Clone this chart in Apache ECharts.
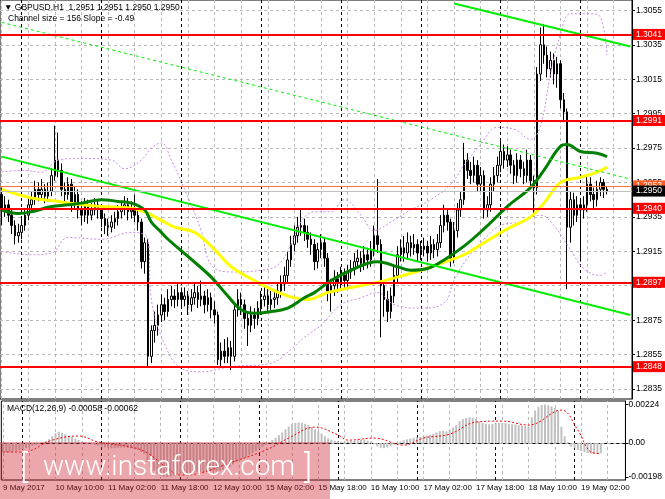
<!DOCTYPE html>
<html><head><meta charset="utf-8">
<script src="https://cdn.jsdelivr.net/npm/echarts@6/dist/echarts.min.js"></script>
<style>html,body{margin:0;padding:0;background:#fff;}#c{width:665px;height:499px;}</style>
</head><body><div id="c"></div>
<script>
// ---- data (GBPUSD H1, 9 May 18:00 .. 19 May 08:00) ----
const firstOpen = 1.2948;
const closes = [1.2939,1.2942,1.2936,1.2930,1.2924,1.2926,1.2930,1.2936,1.2942,1.2945,
1.2951,1.2948,1.2951,1.2947,1.2950,1.2959,1.2968,1.2962,1.2951,1.2948,
1.2954,1.2942,1.2948,1.2939,1.2936,1.2942,1.2936,1.2939,1.2942,1.2939,
1.2934,1.2930,1.2929,1.2932,1.2934,1.2938,1.2940,1.2942,1.2938,1.2939,
1.2936,1.2932,1.2909,1.2920,1.2854,1.2869,1.2872,1.2878,1.2884,1.2880,
1.2887,1.2889,1.2887,1.2891,1.2887,1.2889,1.2884,1.2888,1.2891,1.2887,
1.2889,1.2884,1.2888,1.2881,1.2878,1.2852,1.2857,1.2854,1.2859,1.2854,
1.2881,1.2887,1.2884,1.2876,1.2872,1.2878,1.2876,1.2882,1.2887,1.2889,
1.2884,1.2887,1.2888,1.2892,1.2896,1.2901,1.2910,1.2919,1.2924,1.2929,
1.2930,1.2926,1.2922,1.2919,1.2909,1.2916,1.2920,1.2911,1.2892,1.2895,
1.2899,1.2897,1.2901,1.2898,1.2903,1.2905,1.2909,1.2911,1.2908,1.2913,
1.2910,1.2916,1.2924,1.2919,1.2895,1.2887,1.2880,1.2889,1.2901,1.2913,
1.2917,1.2914,1.2920,1.2917,1.2919,1.2914,1.2916,1.2918,1.2914,1.2919,
1.2916,1.2920,1.2930,1.2936,1.2932,1.2911,1.2927,1.2939,1.2945,1.2968,
1.2962,1.2959,1.2965,1.2954,1.2959,1.2939,1.2942,1.2954,1.2959,1.2965,
1.2973,1.2968,1.2971,1.2965,1.2959,1.2968,1.2963,1.2959,1.2968,1.2956,
1.2952,1.3018,1.3035,1.3029,1.3021,1.3026,1.3018,1.3024,1.3003,1.2996,
1.2929,1.2945,1.2936,1.2942,1.2939,1.2942,1.2954,1.2948,1.2945,1.2951,
1.2955,1.2951,1.2950];
const highs = [1.2952,1.2947,1.2945,1.2939,1.2933,1.2931,1.2934,1.2940,1.2946,1.2950,
1.2956,1.2955,1.2957,1.2954,1.2955,1.2963,1.2988,1.2984,1.2966,1.2955,
1.2958,1.2957,1.2953,1.2951,1.2944,1.2946,1.2945,1.2943,1.2946,1.2945,
1.2942,1.2937,1.2934,1.2936,1.2938,1.2942,1.2944,1.2947,1.2946,1.2944,
1.2948,1.2940,1.2934,1.2923,1.2922,1.2872,1.2880,1.2884,1.2890,1.2888,
1.2893,1.2895,1.2893,1.2896,1.2894,1.2894,1.2892,1.2893,1.2897,1.2895,
1.2898,1.2892,1.2893,1.2891,1.2886,1.2880,1.2862,1.2864,1.2865,1.2863,
1.2885,1.2893,1.2891,1.2887,1.2880,1.2883,1.2882,1.2886,1.2892,1.2895,
1.2893,1.2892,1.2893,1.2897,1.2901,1.2906,1.2915,1.2924,1.2930,1.2935,
1.2940,1.2934,1.2930,1.2926,1.2922,1.2920,1.2925,1.2923,1.2914,1.2899,
1.2904,1.2903,1.2906,1.2905,1.2907,1.2910,1.2914,1.2916,1.2915,1.2918,
1.2917,1.2921,1.2930,1.2957,1.2922,1.2898,1.2892,1.2894,1.2906,1.2918,
1.2922,1.2924,1.2926,1.2924,1.2925,1.2922,1.2921,1.2923,1.2921,1.2924,
1.2922,1.2925,1.2936,1.2942,1.2940,1.2934,1.2932,1.2943,1.2950,1.2978,
1.2972,1.2967,1.2970,1.2968,1.2964,1.2962,1.2947,1.2958,1.2964,1.2970,
1.2980,1.2977,1.2976,1.2974,1.2968,1.2972,1.2971,1.2967,1.2974,1.2971,
1.2959,1.3022,1.3045,1.3047,1.3034,1.3031,1.3030,1.3028,1.3026,1.3007,
1.2998,1.2950,1.2949,1.2947,1.2945,1.2947,1.2959,1.2958,1.2952,1.2956,
1.2958,1.2957,1.2953];
const lows = [1.2930,1.2935,1.2932,1.2925,1.2919,1.2920,1.2922,1.2927,1.2933,1.2938,
1.2942,1.2944,1.2945,1.2943,1.2944,1.2947,1.2956,1.2958,1.2947,1.2944,
1.2945,1.2938,1.2939,1.2934,1.2930,1.2932,1.2931,1.2933,1.2936,1.2934,
1.2929,1.2925,1.2924,1.2926,1.2928,1.2930,1.2934,1.2936,1.2933,1.2934,
1.2932,1.2927,1.2905,1.2902,1.2848,1.2850,1.2862,1.2866,1.2874,1.2875,
1.2877,1.2883,1.2882,1.2883,1.2882,1.2883,1.2878,1.2880,1.2884,1.2882,
1.2883,1.2879,1.2880,1.2876,1.2873,1.2849,1.2848,1.2850,1.2850,1.2846,
1.2851,1.2877,1.2878,1.2870,1.2860,1.2868,1.2870,1.2872,1.2878,1.2883,
1.2880,1.2881,1.2882,1.2884,1.2888,1.2892,1.2897,1.2906,1.2915,1.2920,
1.2924,1.2921,1.2917,1.2913,1.2904,1.2905,1.2911,1.2906,1.2886,1.2880,
1.2889,1.2891,1.2893,1.2893,1.2894,1.2899,1.2901,1.2905,1.2903,1.2904,
1.2905,1.2906,1.2912,1.2914,1.2865,1.2877,1.2874,1.2876,1.2885,1.2897,
1.2909,1.2909,1.2910,1.2912,1.2913,1.2909,1.2910,1.2912,1.2909,1.2910,
1.2911,1.2912,1.2917,1.2926,1.2927,1.2906,1.2908,1.2923,1.2935,1.2942,
1.2957,1.2954,1.2955,1.2950,1.2950,1.2934,1.2935,1.2938,1.2950,1.2955,
1.2961,1.2963,1.2964,1.2960,1.2954,1.2955,1.2958,1.2954,1.2955,1.2951,
1.2935,1.2948,1.3014,1.3024,1.3016,1.3016,1.3012,1.3010,1.2998,1.2990,
1.2893,1.2920,1.2930,1.2932,1.2909,1.2934,1.2938,1.2944,1.2940,1.2941,
1.2947,1.2946,1.2948];

// moving averages / bands: [bar index, price]
const maYellow = [[0,1.2951],[9,1.2946],[17,1.2944],[24,1.2942],[30,1.2941],[39,1.2940],[44,1.2937],[48,1.2933],[52,1.2929],[58,1.2926],[64,1.2916],[69,1.2906],[76,1.2898],[81,1.2893],[86,1.2889],[92,1.2887],[98,1.2891],[105,1.2894],[113,1.2897],[119,1.2900],[126,1.2904],[132,1.2908],[139,1.2913],[145,1.2920],[152,1.2928],[159,1.2935],[163,1.2943],[168,1.2955],[174,1.2958],[179,1.2961],[182,1.2964]];
const maGreen = [[0,1.2939],[5,1.2937],[9,1.2938],[15,1.2941],[20,1.2942],[24,1.2943],[30,1.2945],[35,1.2944],[39,1.2943],[43,1.2939],[45,1.2932],[48,1.2926],[50,1.2922],[56,1.2912],[63,1.2900],[68,1.2889],[72,1.2881],[76,1.2879],[81,1.2880],[86,1.2882],[91,1.2888],[94,1.2891],[99,1.2898],[105,1.2904],[113,1.2909],[119,1.2906],[123,1.2904],[128,1.2905],[133,1.2910],[139,1.2918],[145,1.2928],[152,1.2941],[159,1.2952],[163,1.2962],[168,1.2976],[170,1.2977],[174,1.2973],[179,1.2972],[182,1.2970]];
const bandUpper = [[0,1.2961],[6,1.2962],[12,1.2961],[17,1.2968],[24,1.2969],[33,1.2968],[37,1.2963],[42,1.2968],[45,1.2975],[48,1.2978],[51,1.2968],[55,1.2951],[60,1.2927],[63,1.2907],[69,1.2903],[78,1.2904],[83,1.2907],[87,1.2919],[90,1.2932],[94,1.2938],[99,1.2938],[103,1.2945],[108,1.2936],[112,1.2927],[117,1.2932],[123,1.2939],[129,1.2945],[135,1.2954],[139,1.2965],[144,1.2977],[149,1.2987],[154,1.2986],[159,1.2980],[162,1.2988],[165,1.3018],[168,1.3041],[171,1.3053],[177,1.3053],[180,1.3051],[182,1.3029]];
const bandLower = [[0,1.2915],[9,1.2913],[15,1.2914],[20,1.2923],[30,1.2922],[39,1.2926],[44,1.2922],[45,1.2887],[49,1.2861],[54,1.2847],[60,1.2845],[69,1.2848],[81,1.2850],[87,1.2858],[91,1.2865],[96,1.2872],[102,1.2884],[108,1.2888],[113,1.2891],[118,1.2884],[126,1.2882],[133,1.2885],[136,1.2898],[140,1.2911],[145,1.2922],[150,1.2930],[156,1.2932],[162,1.2936],[166,1.2930],[171,1.2916],[175,1.2905],[180,1.2901],[182,1.2903]];
const channelLow = [[0,1.2970],[189,1.2878]];
const channelHigh = [[136,1.3059],[189,1.3034]];
const channelMid = [[0,1.3048],[189,1.2957]];

const levelsRed = [1.3041,1.2991,1.2940,1.2897,1.2848];
const levelOrange = 1.2953;
const levelBid = 1.2950;
const priceTicks = [1.2835,1.2855,1.2875,1.2895,1.2915,1.2935,1.2955,1.2975,1.2995,1.3015,1.3035,1.3055];

const macdMain = [-0.00050,-0.00052,-0.00050,-0.00048,-0.00046,-0.00042,-0.00036,-0.00030,-0.00024,-0.00016,-0.00010,-0.00004,0.00004,0.00012,
0.00022,0.00040,0.00058,0.00066,0.00060,0.00052,0.00044,0.00036,0.00026,0.00018,
0.00010,0.00004,-0.00002,-0.00006,-0.00010,-0.00014,-0.00018,
-0.00024,-0.00028,-0.00030,-0.00030,-0.00028,-0.00026,-0.00026,-0.00028,-0.00030,-0.00034,-0.00040,-0.00052,-0.00064,
-0.00110,-0.00140,-0.00160,-0.00178,-0.00190,-0.00196,-0.00198,-0.00196,-0.00190,-0.00184,
-0.00180,-0.00178,-0.00176,-0.00174,-0.00172,-0.00171,-0.00170,-0.00168,-0.00166,-0.00164,-0.00163,-0.00165,-0.00162,-0.00156,-0.00148,-0.00140,-0.00124,-0.00112,-0.00100,-0.00090,-0.00082,-0.00070,-0.00058,-0.00046,
-0.00034,-0.00022,-0.00010,0.00004,0.00018,0.00032,0.00046,0.00062,0.00080,0.00096,0.00110,0.00118,0.00120,
0.00118,0.00112,0.00104,0.00092,0.00080,0.00068,0.00056,0.00040,0.00028,0.00020,
0.00012,0.00010,0.00008,0.00008,0.00010,0.00012,0.00014,0.00016,0.00018,0.00020,
0.00014,0.00006,-0.00004,-0.00020,-0.00028,-0.00030,-0.00026,-0.00018,-0.00008,
0.00002,0.00010,0.00016,0.00022,0.00026,0.00030,0.00034,
0.00036,0.00040,0.00044,0.00048,0.00054,0.00062,0.00070,0.00072,0.00068,0.00076,0.00090,0.00104,
0.00128,0.00140,0.00146,0.00150,0.00148,
0.00140,0.00126,0.00118,0.00112,0.00110,0.00112,0.00116,0.00118,0.00118,0.00116,0.00112,0.00110,0.00108,0.00104,0.00102,
0.00100,0.00096,0.00150,0.00190,0.00212,0.00222,0.00224,0.00220,0.00214,
0.00205,0.00190,0.00095,0.00040,0.00005,
-0.00020,-0.00030,-0.00040,-0.00046,-0.00052,-0.00058,-0.00062,-0.00064,-0.00062,-0.00058];
const macdSignal = [[0,-0.00052],[6,-0.00052],[15,0.00017],[23,0.00041],[29,0.00006],[39,-0.00023],[44,-0.00058],[50,-0.00146],[54,-0.00186],[60,-0.00175],[69,-0.00116],[80,-0.00041],[87,0.00029],[95,0.00093],[102,0.00047],[105,0.00017],[113,0.00029],[122,-0.00012],[128,0.00029],[136,0.00052],[144,0.00122],[152,0.00128],[160,0.00105],[170,0.00192],[175,0.00076],[179,-0.00052],[182,-0.00062]];
const macdTicks = [0.00224, 0, -0.00198];

const timeTickLabels = ['9 May 2017','10 May 10:00','11 May 02:00','11 May 18:00','12 May 10:00','15 May 02:00','15 May 18:00','16 May 10:00','17 May 02:00','17 May 18:00','18 May 10:00','19 May 02:00'];
const daySeparators = [6,30,54,78,102,126,150,174];
const nCats = 190;

// ---- build ----
const categories = Array.from({length: nCats}, (_, i) => String(i));
const candleData = closes.map((c, i) => [i === 0 ? firstOpen : closes[i - 1], c, lows[i], highs[i]]);
const FONT = 'Liberation Sans';
const GRAY = '#b8b8b8';

function verticalGrid() {
  const d = [];
  for (let i = 0; i < nCats; i += 8) d.push({xAxis: String(i)});
  daySeparators.forEach(i => d.push({xAxis: String(i), lineStyle: {color: '#000', type: [3, 3], width: 1}}));
  return d;
}
const mlBase = {silent: true, symbol: ['none', 'none'], animation: false, precision: 6, label: {show: false}};

const chart = echarts.init(document.getElementById('c'));
chart.setOption({
  animation: false,
  backgroundColor: '#fff',
  grid: [
    {left: 0, right: 32, top: 0, height: 399, show: true, borderColor: '#000', borderWidth: 1, backgroundColor: 'transparent'},
    {left: 0, right: 32, top: 401, height: 79, show: true, borderColor: '#000', borderWidth: 1, backgroundColor: 'transparent'}
  ],
  xAxis: [
    {type: 'category', gridIndex: 0, data: categories, axisLine: {show: false}, axisTick: {show: false}, axisLabel: {show: false}, splitLine: {show: false}},
    {type: 'category', gridIndex: 1, data: categories, axisLine: {show: true, lineStyle: {color: '#000'}}, axisTick: {show: false},
     axisLabel: {interval: (i) => i % 16 === 0, formatter: (v, i) => timeTickLabels[i / 16] || '', align: 'left', fontSize: 8, fontFamily: FONT, color: '#000', margin: 4},
     splitLine: {show: false}}
  ],
  yAxis: [
    {type: 'value', gridIndex: 0, position: 'right', min: 1.28292, max: 1.30610,
     axisLine: {show: true, lineStyle: {color: '#000'}},
     axisTick: {show: true, customValues: priceTicks, length: 3, lineStyle: {color: '#000'}},
     axisLabel: {customValues: priceTicks, formatter: v => v.toFixed(4), fontSize: 8.5, fontFamily: FONT, color: '#000', margin: 4},
     splitLine: {show: false}},
    {type: 'value', gridIndex: 1, position: 'right', min: -0.00215, max: 0.00245,
     axisLine: {show: true, lineStyle: {color: '#000'}},
     axisTick: {show: true, customValues: macdTicks, length: 3, lineStyle: {color: '#000'}},
     axisLabel: {customValues: macdTicks, formatter: v => (v === 0 ? '0.00' : v.toFixed(5)), fontSize: 8.5, fontFamily: FONT, color: '#000', margin: 3},
     splitLine: {show: false}}
  ],
  series: [
    {type: 'line', name: 'gridMain', xAxisIndex: 0, yAxisIndex: 0, data: [], z: 1,
     markLine: Object.assign({}, mlBase, {z: 1, lineStyle: {color: GRAY, type: [3, 3], width: 1},
       data: priceTicks.map(v => ({yAxis: v})).concat(verticalGrid())})},
    {type: 'line', name: 'gridMacd', xAxisIndex: 1, yAxisIndex: 1, data: [], z: 1,
     markLine: Object.assign({}, mlBase, {z: 1, lineStyle: {color: GRAY, type: [3, 3], width: 1},
       data: [{yAxis: 0}].concat(verticalGrid())})},
    {type: 'candlestick', name: 'GBPUSD', xAxisIndex: 0, yAxisIndex: 0, data: candleData, z: 3, barWidth: 2,
     itemStyle: {color: '#ffffff', color0: '#000000', borderColor: '#000000', borderColor0: '#000000', borderWidth: 1}},
    {type: 'line', name: 'upper', data: bandUpper, smooth: 0.4, symbol: 'none', z: 4,
     lineStyle: {color: '#c98ce8', width: 1, type: [2, 2]}},
    {type: 'line', name: 'lower', data: bandLower, smooth: 0.4, symbol: 'none', z: 4,
     lineStyle: {color: '#c98ce8', width: 1, type: [2, 2]}},
    {type: 'line', name: 'maYellow', data: maYellow, smooth: 0.4, symbol: 'none', z: 5,
     lineStyle: {color: '#ffff00', width: 3}},
    {type: 'line', name: 'maGreen', data: maGreen, smooth: 0.4, symbol: 'none', z: 5,
     lineStyle: {color: '#008000', width: 3}},
    {type: 'line', name: 'chLow', data: channelLow, symbol: 'none', z: 6, lineStyle: {color: '#00ee00', width: 2}},
    {type: 'line', name: 'chHigh', data: channelHigh, symbol: 'none', z: 6, lineStyle: {color: '#00ee00', width: 2}},
    {type: 'line', name: 'chMid', data: channelMid, symbol: 'none', z: 6, lineStyle: {color: '#00ee00', width: 1, type: [3, 3]}},
    {type: 'line', name: 'levels', xAxisIndex: 0, yAxisIndex: 0, data: [], z: 7,
     markLine: {silent: true, symbol: ['none', 'none'], animation: false, z: 7, precision: 6,
       label: {show: true, position: 'end', distance: 1, formatter: p => Number(p.value).toFixed(4), color: '#fff',
               fontSize: 8.5, fontFamily: FONT, padding: [1, 3, 1, 3], lineHeight: 9},
       data: levelsRed.map(v => ({yAxis: v, lineStyle: {color: '#ff0000', width: 2, type: 'solid'}, label: {backgroundColor: '#ff0000'}}))
         .concat([
           {yAxis: levelOrange, lineStyle: {color: '#ff7040', width: 1, type: 'solid'}, label: {backgroundColor: '#ff5a22'}},
           {yAxis: levelBid, lineStyle: {color: '#c0c0c0', width: 1, type: 'solid'}, label: {backgroundColor: '#000000'}}
         ])}},
    {type: 'bar', name: 'MACD', xAxisIndex: 1, yAxisIndex: 1, data: macdMain, barWidth: 2, z: 3,
     itemStyle: {color: '#c0c0c0'}},
    {type: 'line', name: 'Signal', xAxisIndex: 1, yAxisIndex: 1, data: macdSignal, smooth: 0.4, symbol: 'none', z: 4,
     lineStyle: {color: '#ff0000', width: 1, type: [2, 2]}}
  ],
  graphic: [
    {type: 'text', left: 4, top: 3, z: 20, style: {text: '\u25BC GBPUSD,H1  1.2951 1.2951 1.2950 1.2950', font: '8.5px "Liberation Sans"', fill: '#000'}},
    {type: 'text', left: 8, top: 14, z: 20, style: {text: 'Channel size = 156 Slope = -0.49', font: '8.5px "Liberation Sans"', fill: '#000'}},
    {type: 'text', left: 7, top: 404, z: 20, style: {text: 'MACD(12,26,9) -0.00058 -0.00062', font: '8.5px "Liberation Sans"', fill: '#000'}},
    {type: 'rect', z: 30, shape: {x: 0, y: 442, width: 330, height: 57}, style: {fill: 'rgba(205,35,45,0.4)'}},
    {type: 'text', z: 31, x: 20, y: 469, style: {text: '[', font: '300 34px Roboto', fill: '#fff', verticalAlign: 'middle'}},
    {type: 'text', z: 31, x: 43, y: 468, style: {text: 'www.instaforex.com', font: '300 28px Roboto', fill: '#fff', verticalAlign: 'middle'}},
    {type: 'text', z: 31, x: 304, y: 469, style: {text: ']', font: '300 34px Roboto', fill: '#fff', verticalAlign: 'middle'}}
  ]
});
</script></body></html>
